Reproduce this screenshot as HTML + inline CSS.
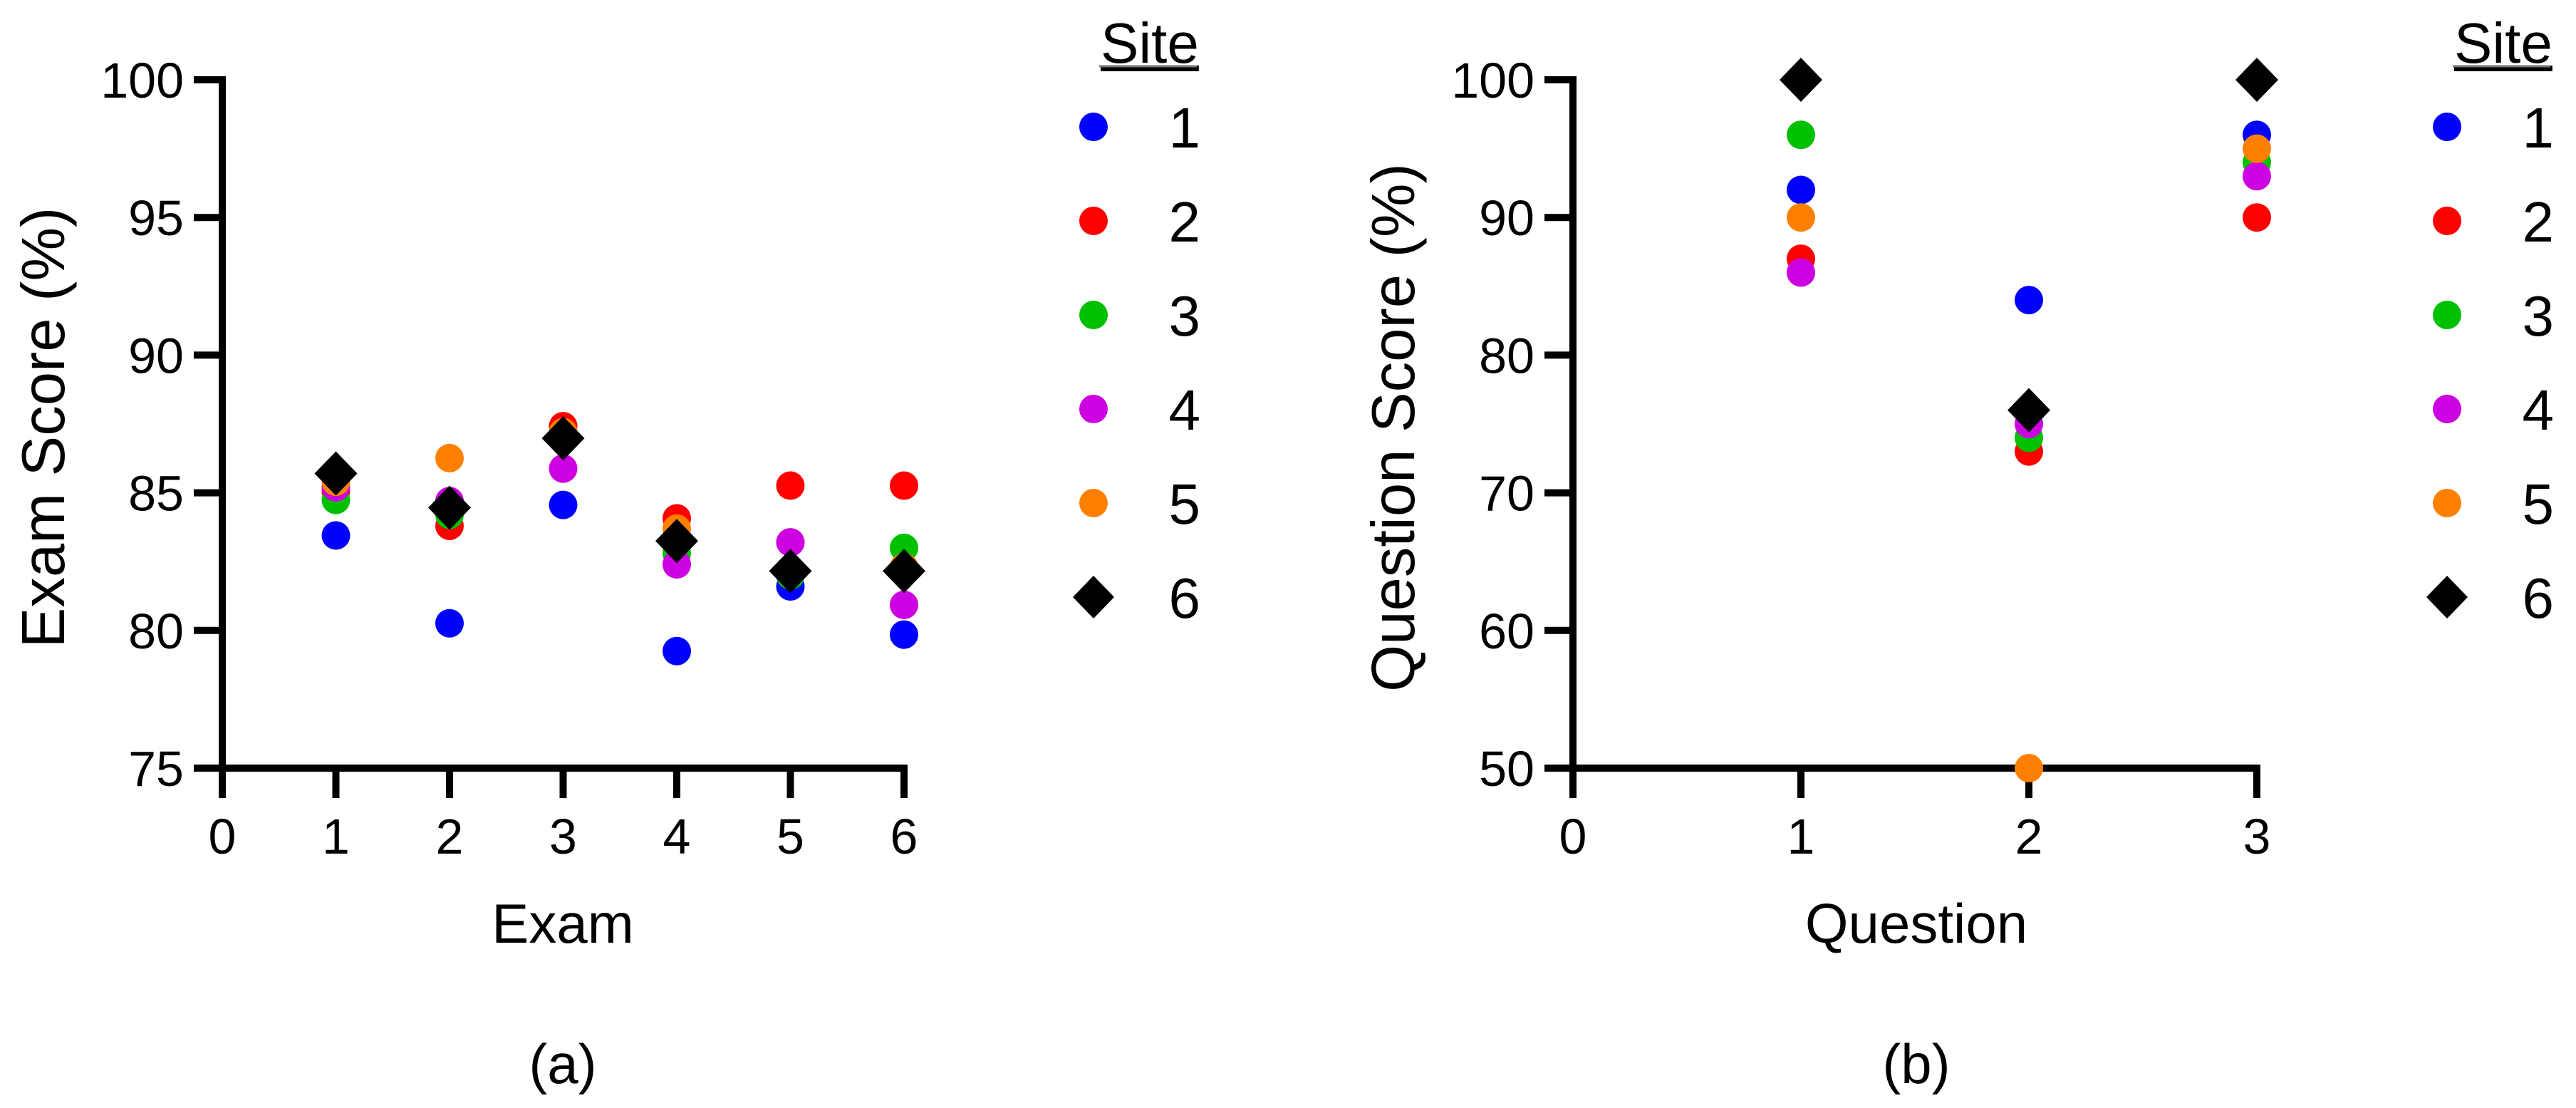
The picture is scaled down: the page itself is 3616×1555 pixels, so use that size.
<!DOCTYPE html>
<html><head><meta charset="utf-8"><style>
html,body{margin:0;padding:0;background:#fff}
svg{display:block}
text{font-family:"Liberation Sans",Arial,sans-serif;fill:#000}
</style></head><body>
<svg id="fig" width="3616" height="1555" viewBox="0 0 3616 1555" xmlns="http://www.w3.org/2000/svg"></svg>
<script>
const colors = ["#0000ff","#ff0000","#00c000","#cc00e0","#ff8000","#000000"];
const siteLabels = ["1","2","3","4","5","6"];
// Panel (a): exam scores per site, exams 1..6
const examCats = [1,2,3,4,5,6];
const examSite1 = [83.45,80.26,84.56,79.25,81.6,79.85];
const examSite2 = [85.05,83.8,87.42,84.07,85.26,85.26];
const examSite3 = [84.74,84.2,87.2,82.8,82.0,83.0];
const examSite4 = [85.2,84.7,85.88,82.4,83.2,80.93];
const examSite5 = [85.4,86.26,87.2,83.7,82.2,82.3];
const examSite6 = [85.7,84.46,86.98,83.25,82.16,82.16];
const examXTicks = [0,1,2,3,4,5,6];
const examYTicks = [75,80,85,90,95,100];
// Panel (b): question scores per site, questions 1..3
const qCats = [1,2,3];
const qSite1 = [92,84,96];
const qSite2 = [87,73,90];
const qSite3 = [96,74,94];
const qSite4 = [86,75,93];
const qSite5 = [90,50,95];
const qSite6 = [100,76,100];
const qXTicks = [0,1,2,3];
const qYTicks = [50,60,70,80,90,100];

const NS="http://www.w3.org/2000/svg";
const svg=document.getElementById('fig');
function mk(tag,attrs,parent){const e=document.createElementNS(NS,tag);for(const k in attrs)e.setAttribute(k,attrs[k]);(parent||svg).appendChild(e);return e;}

function panel(o){
  const g=mk('g',{});
  
  
  const xs=v=>o.x0+(v-o.xmin)*(o.x1-o.x0)/(o.xmax-o.xmin);
  const ys=v=>o.yb-(v-o.ymin)*(o.yb-o.yt)/(o.ymax-o.ymin);
  const ya=mk('line',{x1:o.x0,y1:o.yt-5,x2:o.x0,y2:o.yb+5,stroke:'#000','stroke-width':10},g);
  
  
  const xa=mk('line',{x1:o.x0-5,y1:o.yb,x2:o.x1+5,y2:o.yb,stroke:'#000','stroke-width':10},g);
  
  
  o.yTicks.forEach(t=>{
    const y=ys(t);
    const tk=mk('line',{x1:o.x0-40,y1:y,x2:o.x0,y2:y,stroke:'#000','stroke-width':10},g);
    
    
    const tl=mk('text',{x:o.x0-54,y:y+25,'text-anchor':'end','font-size':70},g);
    tl.textContent=t;
    
    
  });
  o.xTicks.forEach(t=>{
    const x=xs(t);
    const tk=mk('line',{x1:x,y1:o.yb,x2:x,y2:o.yb+42,stroke:'#000','stroke-width':10},g);
    
    
    const tl=mk('text',{x:x,y:o.yb+120,'text-anchor':'middle','font-size':70},g);
    tl.textContent=t;
    
    
  });
  const xt=mk('text',{x:o.xtx,y:o.yb+245,'text-anchor':'middle','font-size':78},g);
  xt.textContent=o.xTitle;
  
  
  const yt=mk('text',{x:0,y:0,'text-anchor':'middle','font-size':85,transform:`translate(${o.ytx},600) rotate(-90)`},g);
  yt.textContent=o.yTitle;
  
  
  const cap=mk('text',{x:o.xtx,y:1520,'text-anchor':'middle','font-size':78},g);
  cap.textContent=o.caption;
  
  
  o.series.forEach((s,i)=>{
    s.forEach((v,j)=>{
      const cx=xs(o.cats[j]),cy=ys(v);
      let m;
      if(i===5){
        m=mk('polygon',{points:`${cx},${cy-31} ${cx+30},${cy} ${cx},${cy+31} ${cx-30},${cy}`,fill:'#000'},g);
      } else {
        m=mk('circle',{cx:cx,cy:cy,r:20,fill:colors[i]},g);
      }
      
      
    });
  });
  const lg=mk('g',{},g);
  
  
  const st=mk('text',{x:o.lgx+10,y:88,'font-size':80,'text-decoration':'underline'},lg);
  st.textContent='Site';
  
  
  mk('line',{x1:o.lgx+8,y1:93,x2:o.lgx+145,y2:93,stroke:'#777','stroke-width':3},lg);
  siteLabels.forEach((lab,i)=>{
    const cy=178+i*132, cx=o.lgx;
    let m;
    if(i===5){m=mk('polygon',{points:`${cx},${cy-30} ${cx+29},${cy} ${cx},${cy+30} ${cx-29},${cy}`,fill:'#000'},lg);}
    else {m=mk('circle',{cx:cx,cy:cy,r:20,fill:colors[i]},lg);}
    
    
    const t=mk('text',{x:o.lgx+150,y:cy+29,'text-anchor':'end','font-size':80},lg);
    t.textContent=lab;
    
    
  });
}

panel({name:'panel-a-exam-scores',x0:312,x1:1269,xmin:0,xmax:6,yt:112,yb:1078,ymin:75,ymax:100,
  xTicks:examXTicks,yTicks:examYTicks,cats:examCats,
  series:[examSite1,examSite2,examSite3,examSite4,examSite5,examSite6],
  xTitle:'Exam',yTitle:'Exam Score (%)',caption:'(a)',xtx:790,ytx:90,lgx:1535});
panel({name:'panel-b-question-scores',x0:2208,x1:3168,xmin:0,xmax:3,yt:112,yb:1078,ymin:50,ymax:100,
  xTicks:qXTicks,yTicks:qYTicks,cats:qCats,
  series:[qSite1,qSite2,qSite3,qSite4,qSite5,qSite6],
  xTitle:'Question',yTitle:'Question Score (%)',caption:'(b)',xtx:2690,ytx:1985,lgx:3435});
</script>
</body></html>
